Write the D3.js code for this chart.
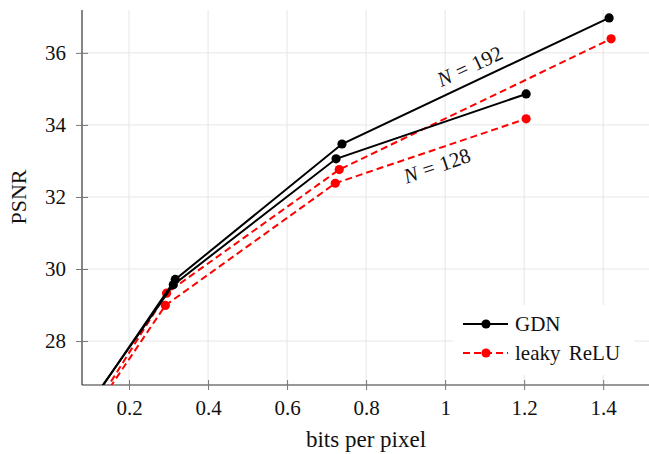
<!DOCTYPE html>
<html><head><meta charset="utf-8">
<script src="https://cdn.jsdelivr.net/npm/d3@7"></script>
<style>body{margin:0;background:#fff} svg text{font-family:"Liberation Serif","DejaVu Serif",serif !important;}</style>
</head><body><svg id="c" width="649" height="454"></svg>
<script>
const xTicks = [0.2, 0.4, 0.6, 0.8, 1, 1.2, 1.4];
const yTicks = [28, 30, 32, 34, 36];
const gdn192 = [[0.105, 26.3], [0.317, 29.71], [0.739, 33.47], [1.415, 36.97]];
const gdn128 = [[0.10, 26.25], [0.312, 29.56], [0.724, 33.06], [1.205, 34.86]];
const leaky192 = [[0.11, 26.1], [0.295, 29.33], [0.732, 32.76], [1.42, 36.39]];
const leaky128 = [[0.105, 25.95], [0.292, 28.99], [0.722, 32.38], [1.205, 34.17]];
const annotations = [
  {n: "192", x: 1.07, y: 35.45, angle: -25},
  {n: "128", x: 0.985, y: 32.68, angle: -19}
];

const svg = d3.select("#c");
const W = 649, H = 454;
const x = d3.scaleLinear().domain([0.081, 1.521]).range([82, 651]);
const y = d3.scaleLinear().domain([26.78, 37.19]).range([385, 10]);

svg.append("defs").append("clipPath").attr("id","clip").append("rect")
  .attr("x",82).attr("y",10).attr("width",W-82).attr("height",375);

// grid
const g = svg.append("g");
g.selectAll(".gx").data(xTicks).join("line")
  .attr("x1",d=>x(d)).attr("x2",d=>x(d)).attr("y1",10).attr("y2",385)
  .attr("stroke","#e6e6e6").attr("stroke-width",1);
g.selectAll(".gy").data(yTicks).join("line")
  .attr("x1",82).attr("x2",W).attr("y1",d=>y(d)).attr("y2",d=>y(d))
  .attr("stroke","#e6e6e6").attr("stroke-width",1);

// axes
const xAx = svg.append("g").attr("transform","translate(0,385)")
  .call(d3.axisBottom(x).tickValues(xTicks).tickFormat(d=>String(d)).tickSize(5).tickSizeOuter(0));
const yAx = svg.append("g").attr("transform","translate(82,0)")
  .call(d3.axisLeft(y).tickValues(yTicks).tickSize(6).tickSizeOuter(0));
[xAx, yAx].forEach(a => {
  a.attr("font-size",null).attr("font-family",null);
  a.select(".domain").attr("stroke","#333").attr("stroke-width",1.2);
  a.selectAll(".tick line").attr("stroke","#777").attr("stroke-width",1);
  a.selectAll("text").style("font-size","21px").attr("fill","#111");
});
xAx.selectAll(".tick line").attr("y1",-5).attr("y2",5);
xAx.selectAll("text").attr("y",15);
yAx.selectAll(".tick line").attr("x1",6).attr("x2",-6);
yAx.selectAll("text").attr("x",-16);
xAx.select(".domain").attr("d","M82,0H"+W);
yAx.select(".domain").attr("d","M0,10V385");

// series
const line = d3.line().x(d=>x(d[0])).y(d=>y(d[1]));
const plot = svg.append("g").attr("clip-path","url(#clip)");
const series = [
  {data: leaky128, color: "#ff0000", dash: "7,4"},
  {data: leaky192, color: "#ff0000", dash: "7,4"},
  {data: gdn128, color: "#000", dash: null},
  {data: gdn192, color: "#000", dash: null}
];
series.forEach(s => {
  plot.append("path").datum(s.data).attr("d", line).attr("fill","none")
    .attr("stroke", s.color).attr("stroke-width", 2).attr("stroke-dasharray", s.dash);
  plot.selectAll(null).data(s.data).join("circle")
    .attr("cx", d=>x(d[0])).attr("cy", d=>y(d[1])).attr("r", 4.6).attr("fill", s.color);
});

// annotations
annotations.forEach(a => {
  const t = svg.append("text").attr("transform",`translate(${x(a.x)},${y(a.y)}) rotate(${a.angle})`)
    .attr("text-anchor","middle").style("font-size","21px").attr("fill","#111");
  t.append("tspan").attr("font-style","italic").text("N");
  t.append("tspan").attr("dx",6).text("=");
  t.append("tspan").attr("dx",6).text(a.n);
});

// legend
const lg = svg.append("g");
lg.append("rect").attr("x",453).attr("y",305).attr("width",181).attr("height",70).attr("fill","#fff");
const legItems = [{label:"GDN", color:"#000", dash:null, yy:324},
                  {label:"leaky ReLU", color:"#ff0000", dash:"7,4", yy:353}];
legItems.forEach(it => {
  lg.append("line").attr("x1",463).attr("x2",508).attr("y1",it.yy).attr("y2",it.yy)
    .attr("stroke",it.color).attr("stroke-width",2).attr("stroke-dasharray",it.dash);
  lg.append("circle").attr("cx",486).attr("cy",it.yy).attr("r",4.6).attr("fill",it.color);
  lg.append("text").attr("x",515).attr("y",it.yy+7)
    .style("font-size","21px").style("word-spacing","3px").attr("fill","#111").text(it.label);
});

// axis titles
svg.append("text").attr("x",366).attr("y",447).attr("text-anchor","middle")
  .style("font-size","23px").attr("fill","#111").text("bits per pixel");
svg.append("text").attr("transform","translate(26,197) rotate(-90)").attr("text-anchor","middle")
  .style("font-size","22px").attr("fill","#111").text("PSNR");
</script></body></html>
